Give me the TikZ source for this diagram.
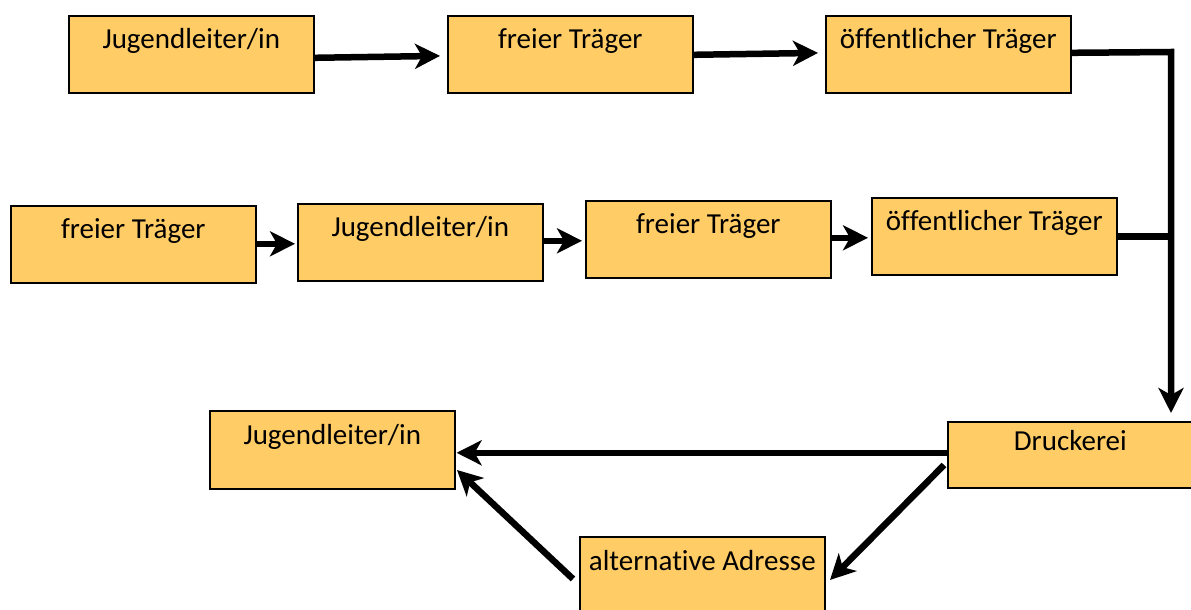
\documentclass[tikz,border=0pt]{standalone}
\usepackage{fontspec}
\setmainfont[Ligatures=NoCommon]{Carlito}
\usetikzlibrary{arrows.meta}
\definecolor{boxfill}{RGB}{255,204,102}
\tikzset{
  box/.style={draw=black, line width=1.6pt, fill=boxfill, rectangle, anchor=north west,
    minimum width=245pt, inner sep=0pt, text height=33pt, text depth=44pt,
    font=\fontsize{29pt}{32pt}\selectfont},
  arr/.style={line width=6.5pt, -{Stealth[length=25pt,width=25pt,inset=7pt]}},
  conn/.style={line width=6.5pt},
}
\begin{document}
\begin{tikzpicture}[x=1pt,y=-1pt]
\useasboundingbox (0,0) rectangle (1191,610);
\begin{scope}
\clip (0,0) rectangle (1191,610);
% row 1
\node[box] (A) at (68,15) {Jugendleiter/in};
\node[box] (B) at (447,15) {freier Träger};
\node[box] (C) at (825,15) {öffentlicher Träger};
% row 2
\node[box] (D) at (10,205) {freier Träger};
\node[box] (E) at (297,203) {Jugendleiter/in};
\node[box] (F) at (585,200) {freier Träger};
\node[box] (G) at (871,197) {öffentlicher Träger};
% row 3
\node[box, text height=34pt, text depth=44pt] (H) at (209,410) {Jugendleiter/in};
\node[box, text height=29pt, text depth=37pt] (I) at (947,421) {Druckerei};
\node[box, text height=34pt, text depth=44pt] (J) at (579,536) {alternative Adresse};
\end{scope}
\coordinate (K1) at (1171,52);
% row 1 connectors
\draw[arr, shorten >=7pt] ([yshift=-3.5pt]A.east) -- ([yshift=-1.5pt]B.west);
\draw[arr, shorten >=7pt] ([yshift=-0.5pt]B.east) -- ([yshift=1.5pt]C.west);
\draw[arr, line join=miter, shorten >=8pt] ([yshift=1.5pt]C.east) -- (K1) -- (K1 |- I.north);
% row 2 connectors
\draw[arr, shorten >=2pt] ([yshift=0.5pt]D.east) -- ([yshift=-1.5pt]E.west);
\draw[arr, shorten >=3pt] ([yshift=1.5pt]E.east) -- ([yshift=-1.5pt]F.west);
\draw[arr, shorten >=3pt] ([yshift=1.5pt]F.east) -- ([yshift=-1.5pt]G.west);
\draw[conn] (G.east) -- (G.east -| K1);
% row 3 connectors
\coordinate (I1) at (944,465);
\coordinate (Jt) at (830,580);
\coordinate (J1) at (573,579);
\coordinate (Ht) at (457,470);
\draw[arr, shorten >=1pt] ([yshift=2pt]I.west) -- ([yshift=-3pt]H.east);
\draw[arr] (I1) -- (Jt);
\draw[arr] (J1) -- (Ht);
\end{tikzpicture}
\end{document}
